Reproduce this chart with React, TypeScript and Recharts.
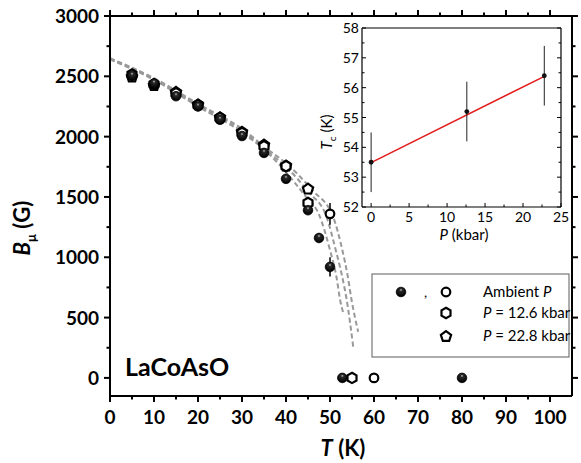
import React from "react";
import { ComposedChart, Scatter, Line, XAxis, YAxis, ErrorBar } from "recharts";

// main panel: B_mu (G) vs T (K)
// ambient pressure, filled spheres
const tFilled = [5, 10, 15, 20, 25, 30, 35, 40, 45, 47.5, 50, 52.8, 80];
const bFilled = [2505, 2440, 2335, 2250, 2140, 2005, 1865, 1650, 1390, 1160, 920, 0, 0];
const eFilled = [0, 0, 0, 0, 0, 0, 0, 0, 30, 40, 80, 0, 0];

// ambient pressure, open circles
const tOpen = [50, 60];
const bOpen = [1360, 0];
const eOpen = [90, 0];

// P = 12.6 kbar (hexagons)
const tHex = [5, 10, 15, 20, 25, 30, 35, 40, 45, 55];
const bHex = [2515, 2435, 2360, 2262, 2155, 2030, 1920, 1755, 1450, 0];

// P = 22.8 kbar (pentagons)
const tPent = [5, 10, 15, 20, 25, 30, 35, 40, 45];
const bPent = [2500, 2428, 2372, 2268, 2162, 2042, 1935, 1762, 1570];

// dashed fit curves
const tFitA = [0, 10, 20, 30, 36, 40, 44, 47.7, 50, 51.5, 52.3, 53];
const bFitA = [2640, 2470, 2250, 2035, 1860, 1705, 1525, 1336, 1060, 830, 646, 540];
const tFitB = [0, 10, 20, 30, 36, 40, 45, 49.2, 51.3, 53, 53.8, 55.3];
const bFitB = [2645, 2478, 2262, 2050, 1870, 1750, 1545, 1336, 1060, 800, 646, 250];
const tFitC = [0, 10, 20, 30, 36, 40, 46, 50.7, 52.8, 54, 54.9, 56.4];
const bFitC = [2650, 2485, 2272, 2065, 1890, 1780, 1555, 1336, 1060, 850, 646, 383];

const tTicks = [0, 5, 10, 15, 20, 25, 30, 35, 40, 45, 50, 55, 60, 65, 70, 75, 80, 85, 90, 95, 100];
const bTicks = [0, 250, 500, 750, 1000, 1250, 1500, 1750, 2000, 2250, 2500, 2750, 3000];

// inset: Tc vs P
const pInset = [0, 12.6, 22.8];
const tcInset = [53.5, 55.2, 56.4];
const tcErr = [1, 1, 1];
const pFit = [0, 22.8];
const tcFit = [53.49, 56.38];
const pTicks = [0, 2.5, 5, 7.5, 10, 12.5, 15, 17.5, 20, 22.5, 25];
const tcTicks = [52, 52.5, 53, 53.5, 54, 54.5, 55, 55.5, 56, 56.5, 57, 57.5, 58];

const zip = (t: number[], b: number[], e?: number[]) =>
  t.map((v, i) => ({ t: v, b: b[i], err: e ? e[i] : 0 }));

const font = "Lato, 'Open Sans', sans-serif";
const lbl = { fontFamily: font, fontSize: 19, fontWeight: 700, fill: "#000" };
const ilbl = { fontFamily: font, fontSize: 14, fill: "#000" };

const poly = (cx: number, cy: number, r: number, n: number) =>
  Array.from({ length: n }, (_, i) => {
    const a = -Math.PI / 2 + (i * 2 * Math.PI) / n;
    return `${cx + r * Math.cos(a)},${cy + r * Math.sin(a)}`;
  }).join(" ");

const Sphere = (p: any) => (
  <circle cx={p.cx} cy={p.cy} r={4.8} fill="url(#sphere)" stroke="#000" strokeWidth={0.8} />
);
const Ring = (p: any) => (
  <circle cx={p.cx} cy={p.cy} r={4.3} fill="#fff" stroke="#000" strokeWidth={2.2} />
);
const Hex = (p: any) => (
  <polygon points={poly(p.cx, p.cy, 5.2, 6)} fill="#fff" stroke="#000" strokeWidth={2.2} />
);
const Pent = (p: any) => (
  <polygon points={poly(p.cx, p.cy + 0.6, 5.4, 5)} fill="#fff" stroke="#000" strokeWidth={2.2} />
);
const Dot = (p: any) => <circle cx={p.cx} cy={p.cy} r={2.4} fill="#111" />;

const BottomTick = ({ x, y, payload }: any) => {
  const major = payload.value % 10 === 0;
  return (
    <g>
      <line x1={x} x2={x} y1={y} y2={y + (major ? 6 : 3.5)} stroke="#000" strokeWidth={2} />
      {major && (
        <text x={x} y={y + 28} textAnchor="middle" style={lbl}>
          {payload.value}
        </text>
      )}
    </g>
  );
};
const TopTick = ({ x, y, payload }: any) => {
  const major = payload.value % 10 === 0;
  return <line x1={x} x2={x} y1={y} y2={y - (major ? 6 : 3.5)} stroke="#000" strokeWidth={2} />;
};
const LeftTick = ({ x, y, payload }: any) => {
  const major = payload.value % 500 === 0;
  return (
    <g>
      <line x1={x} x2={x - (major ? 6 : 3.5)} y1={y} y2={y} stroke="#000" strokeWidth={2} />
      {major && (
        <text x={x - 11} y={y + 7} textAnchor="end" style={lbl}>
          {payload.value}
        </text>
      )}
    </g>
  );
};
const RightTick = ({ x, y, payload }: any) => {
  const major = payload.value % 500 === 0;
  return <line x1={x} x2={x + (major ? 6 : 3.5)} y1={y} y2={y} stroke="#000" strokeWidth={2} />;
};

const InBottomTick = ({ x, y, payload }: any) => {
  const major = payload.value % 5 === 0;
  return (
    <g>
      <line x1={x} x2={x} y1={y} y2={y - (major ? 4 : 2.5)} stroke="#000" strokeWidth={1} />
      {major && (
        <text x={x} y={y + 15} textAnchor="middle" style={ilbl}>
          {payload.value}
        </text>
      )}
    </g>
  );
};
const InTopTick = ({ x, y, payload }: any) => {
  const major = payload.value % 5 === 0;
  return <line x1={x} x2={x} y1={y} y2={y + (major ? 4 : 2.5)} stroke="#000" strokeWidth={1} />;
};
const InLeftTick = ({ x, y, payload }: any) => {
  const major = payload.value % 1 === 0;
  return (
    <g>
      <line x1={x} x2={x + (major ? 4 : 2.5)} y1={y} y2={y} stroke="#000" strokeWidth={1} />
      {major && (
        <text x={x - 3} y={y + 5} textAnchor="end" style={ilbl}>
          {payload.value}
        </text>
      )}
    </g>
  );
};
const InRightTick = ({ x, y, payload }: any) => {
  const major = payload.value % 1 === 0;
  return <line x1={x} x2={x - (major ? 4 : 2.5)} y1={y} y2={y} stroke="#000" strokeWidth={1} />;
};

const fitStyle = { stroke: "#999", strokeWidth: 2, strokeDasharray: "5 3" };

export default function App() {
  const axisMain = { stroke: "#000", strokeWidth: 2 };
  const axisIn = { stroke: "#000", strokeWidth: 1.2 };
  return (
    <div style={{ position: "absolute", left: 0, top: 0, width: 581, height: 463, background: "#fff" }}>
      <div style={{ position: "absolute", left: 0, top: 0 }}>
        <ComposedChart width={581} height={463} margin={{ top: 8, right: 0, bottom: 0, left: 0 }}>
          <XAxis xAxisId={0} dataKey="t" type="number" domain={[0, 105]} ticks={tTicks} interval={0}
            tickSize={0} tickMargin={0} tickLine={false} axisLine={axisMain} tick={<BottomTick />} height={67} allowDataOverflow />
          <XAxis xAxisId="top" orientation="top" dataKey="t" type="number" domain={[0, 105]} ticks={tTicks} interval={0}
            tickSize={0} tickMargin={0} tickLine={false} axisLine={axisMain} tick={<TopTick />} height={8} allowDataOverflow />
          <YAxis yAxisId={0} dataKey="b" type="number" domain={[-150, 3000]} ticks={bTicks} interval={0}
            tickSize={0} tickMargin={0} tickLine={false} axisLine={axisMain} tick={<LeftTick />} width={110} allowDataOverflow />
          <YAxis yAxisId="right" orientation="right" type="number" domain={[-150, 3000]} ticks={bTicks} interval={0}
            tickSize={0} tickMargin={0} tickLine={false} axisLine={axisMain} tick={<RightTick />} width={9} allowDataOverflow />
          <Line data={zip(tFitA, bFitA)} dataKey="b" type="monotone" dot={false} {...fitStyle} isAnimationActive={false} />
          <Line data={zip(tFitB, bFitB)} dataKey="b" type="monotone" dot={false} {...fitStyle} isAnimationActive={false} />
          <Line data={zip(tFitC, bFitC)} dataKey="b" type="monotone" dot={false} {...fitStyle} isAnimationActive={false} />
          <Scatter data={zip(tPent, bPent)} dataKey="b" shape={Pent} isAnimationActive={false} />
          <Scatter data={zip(tHex, bHex)} dataKey="b" shape={Hex} isAnimationActive={false} />
          <Scatter data={zip(tOpen, bOpen, eOpen)} dataKey="b" shape={Ring} isAnimationActive={false}>
            <ErrorBar dataKey="err" direction="y" width={0} stroke="#000" strokeWidth={1.5} />
          </Scatter>
          <Scatter data={zip(tFilled, bFilled, eFilled)} dataKey="b" shape={Sphere} isAnimationActive={false}>
            <ErrorBar dataKey="err" direction="y" width={0} stroke="#000" strokeWidth={1.5} />
          </Scatter>
        </ComposedChart>
      </div>

      <div style={{ position: "absolute", left: 320, top: 20 }}>
        <ComposedChart width={250} height={230} margin={{ top: 4, right: 4, bottom: 0, left: 0 }}>
          <XAxis xAxisId={0} dataKey="p" type="number" domain={[-1.2, 25]} ticks={pTicks} interval={0}
            tickSize={0} tickMargin={0} tickLine={false} axisLine={axisIn} tick={<InBottomTick />} height={43} allowDataOverflow />
          <XAxis xAxisId="top" orientation="top" type="number" domain={[-1.2, 25]} ticks={pTicks} interval={0}
            tickSize={0} tickMargin={0} tickLine={false} axisLine={axisIn} tick={<InTopTick />} height={4} allowDataOverflow />
          <YAxis yAxisId={0} dataKey="tc" type="number" domain={[52, 58]} ticks={tcTicks} interval={0}
            tickSize={0} tickMargin={0} tickLine={false} axisLine={axisIn} tick={<InLeftTick />} width={42} allowDataOverflow />
          <YAxis yAxisId="right" orientation="right" type="number" domain={[52, 58]} ticks={tcTicks} interval={0}
            tickSize={0} tickMargin={0} tickLine={false} axisLine={axisIn} tick={<InRightTick />} width={5} allowDataOverflow />
          <Line data={pFit.map((p, i) => ({ p, tc: tcFit[i] }))} dataKey="tc" type="linear" dot={false}
            stroke="#e31a1a" strokeWidth={1.5} isAnimationActive={false} />
          <Scatter data={pInset.map((p, i) => ({ p, tc: tcInset[i], err: tcErr[i] }))} dataKey="tc" shape={Dot} isAnimationActive={false}>
            <ErrorBar dataKey="err" direction="y" width={0} stroke="#222" strokeWidth={1} />
          </Scatter>
        </ComposedChart>
      </div>

      <svg width={581} height={463} style={{ position: "absolute", left: 0, top: 0, pointerEvents: "none" }}>
        <defs>
          <radialGradient id="sphere" cx="50%" cy="35%" r="60%" fx="50%" fy="28%">
            <stop offset="0%" stopColor="#c8c8c8" />
            <stop offset="25%" stopColor="#2a2a2a" />
            <stop offset="100%" stopColor="#000" />
          </radialGradient>
        </defs>
        <text transform="translate(30,228) rotate(-90)" textAnchor="middle"
          style={{ fontFamily: font, fontSize: 22, fontWeight: 700 }}>
          <tspan fontStyle="italic">B</tspan>
          <tspan fontSize={13} dy={6}>μ</tspan>
          <tspan dy={-6}> (G)</tspan>
        </text>
        <text x={343} y={456} textAnchor="middle" style={{ fontFamily: font, fontSize: 22, fontWeight: 700 }}>
          <tspan fontStyle="italic">T</tspan> (K)
        </text>
        <text x={125} y={376} style={{ fontFamily: font, fontSize: 25, fontWeight: 700 }}>LaCoAsO</text>

        <text transform="translate(332,132) rotate(-90)" textAnchor="middle" style={{ fontFamily: font, fontSize: 15 }}>
          <tspan fontStyle="italic">T</tspan>
          <tspan fontSize={10} dy={4}>c</tspan>
          <tspan dy={-4}> (K)</tspan>
        </text>
        <text x={464} y={240} textAnchor="middle" style={{ fontFamily: font, fontSize: 15 }}>
          <tspan fontStyle="italic">P</tspan> (kbar)
        </text>

        <rect x={372} y={274} width={197} height={83} fill="#fff" stroke="#777" strokeWidth={1.2} />
        <circle cx={401} cy={292} r={4.8} fill="url(#sphere)" stroke="#000" strokeWidth={0.8} />
        <text x={424} y={297} style={{ fontFamily: font, fontSize: 14 }}>,</text>
        <circle cx={446} cy={292} r={4.3} fill="#fff" stroke="#000" strokeWidth={2.2} />
        <polygon points={poly(446, 313, 5.2, 6)} fill="#fff" stroke="#000" strokeWidth={2.2} />
        <polygon points={poly(446, 336.6, 5.4, 5)} fill="#fff" stroke="#000" strokeWidth={2.2} />
        <text x={483} y={297} style={{ fontFamily: font, fontSize: 15 }}>
          Ambient <tspan fontStyle="italic">P</tspan>
        </text>
        <text x={483} y={318} style={{ fontFamily: font, fontSize: 15 }}>
          <tspan fontStyle="italic">P</tspan> = 12.6 kbar
        </text>
        <text x={483} y={341} style={{ fontFamily: font, fontSize: 15 }}>
          <tspan fontStyle="italic">P</tspan> = 22.8 kbar
        </text>
      </svg>
    </div>
  );
}
